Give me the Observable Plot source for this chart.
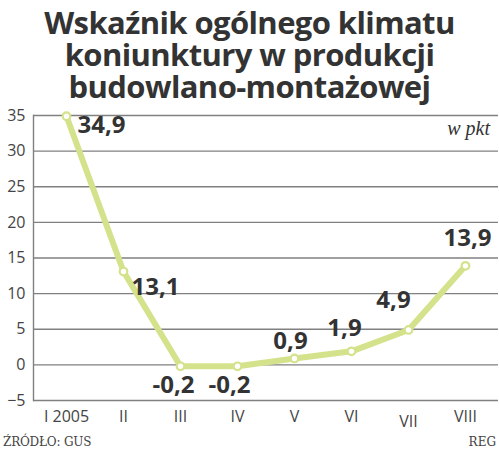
<!DOCTYPE html>
<html><head><meta charset="utf-8">
<script src="https://cdn.jsdelivr.net/npm/d3@7"></script>
<script src="https://cdn.jsdelivr.net/npm/@observablehq/plot@0.6"></script>
<style>
body{margin:0;background:#fff;width:499px;height:453px;overflow:hidden;position:relative;font-family:"Open Sans",sans-serif;}
#title{position:absolute;left:0;top:6px;width:499px;text-align:center;font-family:"Open Sans",sans-serif;font-weight:700;color:#333;}
#title div{font-size:31px;line-height:32px;height:32px;letter-spacing:-0.6px;}
#chart{position:absolute;left:0;top:90px;}
#src{position:absolute;left:3px;top:435px;font-family:"DejaVu Serif",serif;font-size:12px;color:#444;letter-spacing:-0.2px;}
#reg{position:absolute;right:3px;top:435px;font-family:"DejaVu Serif",serif;font-size:12px;color:#444;}
#unit{position:absolute;right:9px;top:117px;font-family:"Liberation Serif",serif;font-style:italic;font-size:20px;color:#333;}
</style></head>
<body>
<div id="title"><div>Wskaźnik ogólnego klimatu</div><div>koniunktury w produkcji</div><div>budowlano-montażowej</div></div>
<div id="chart"></div>
<div id="unit">w pkt</div>
<div id="src">ŹRÓDŁO: GUS</div>
<div id="reg">REG</div>
<script>
const months = ["I 2005","II","III","IV","V","VI","VII","VIII"];
const values = [34.9, 13.1, -0.2, -0.2, 0.9, 1.9, 4.9, 13.9];
const yTicks = [-5, 0, 5, 10, 15, 20, 25, 30, 35];

const data = months.map((m, i) => ({month: m, value: values[i], i}));
const fmt = v => v.toFixed(1).replace(".", ",");
const lineColor = "#d5e28c";

function label(i, dx, dy, anchor) {
  return Plot.text(data.filter(d => d.i === i), {
    x: "month", y: "value", text: d => fmt(d.value),
    dx, dy, textAnchor: anchor, fontSize: 24, fontWeight: 700,
    fill: "#333", fontFamily: "Open Sans, sans-serif"
  });
}

const chart = Plot.plot({
  width: 499, height: 344,
  marginLeft: 33, marginRight: 1, marginTop: 25, marginBottom: 34,
  x: {type: "point", domain: months, padding: 0.57, label: null, axis: null},
  y: {domain: [-5, 35], ticks: yTicks, label: null, tickSize: 0, tickPadding: 8},
  style: {fontFamily: "Open Sans, sans-serif", fontSize: "16px", color: "#444"},
  marks: [
    Plot.axisX(months.filter(m => m !== "VII"), {tickSize: 0, tickPadding: 10, label: null}),
    Plot.axisX(["VII"], {tickSize: 0, tickPadding: 10, dy: 5, label: null}),
    Plot.ruleY(yTicks, {stroke: "#808080", strokeWidth: 1.4}),
    Plot.frame({anchor: "left", stroke: "#808080", strokeWidth: 1.4}),
    Plot.line(data, {x: "month", y: "value", stroke: lineColor, strokeWidth: 6, curve: "linear"}),
    Plot.dot(data, {x: "month", y: "value", r: 3.8, fill: "white", stroke: lineColor, strokeWidth: 2.2}),
    label(0, 11, 9, "start"),
    label(1, 8, 16, "start"),
    label(2, -7, 19, "middle"),
    label(3, -8, 19, "middle"),
    label(4, -4, -17, "middle"),
    label(5, -7, -23, "middle"),
    label(6, -15, -30, "middle"),
    label(7, 2, -28, "middle")
  ]
});
document.getElementById("chart").appendChild(chart);
</script>
</body></html>
